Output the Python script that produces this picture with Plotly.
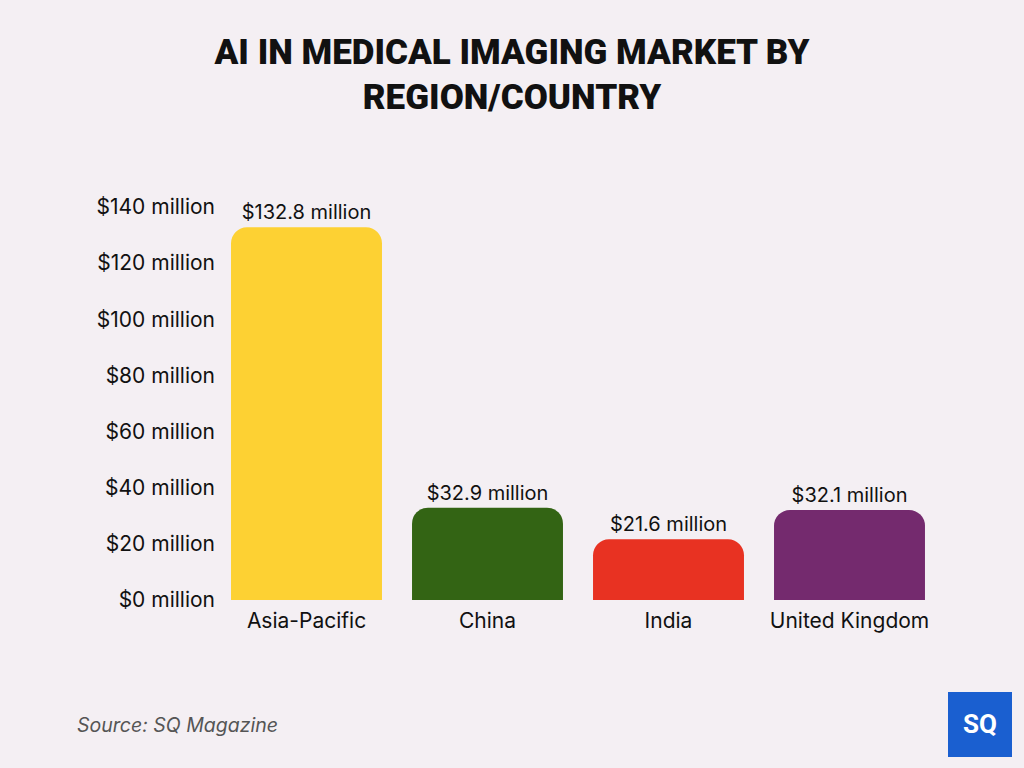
import plotly.graph_objects as go

categories = ["Asia-Pacific", "China", "India", "United Kingdom"]
values = [132.8, 32.9, 21.6, 32.1]
colors = ["#FDD133", "#336414", "#E83222", "#742A6E"]
tick_vals = [0, 20, 40, 60, 80, 100, 120, 140]
tick_text = [f"${v} million" for v in tick_vals]
labels = [f"${v} million" for v in values]

W, H = 1024, 768
L, T, B = 216, 207, 168
PW, PH = 724, 393


def px(x):
    return (x - L) / PW


def py(y):
    return (H - B - y) / PH


fig = go.Figure()
fig.add_trace(go.Bar(
    x=categories, y=values, marker=dict(color=colors, line=dict(width=0)),
    text=labels, textposition="outside", cliponaxis=False,
    textfont=dict(family="Inter", size=20, color="#111111"),
    hoverinfo="skip",
))

fig.update_layout(
    width=W, height=H,
    margin=dict(l=L, r=W - L - PW, t=T, b=B),
    paper_bgcolor="#f4eff3", plot_bgcolor="rgba(0,0,0,0)",
    bargap=0.166, barcornerradius=16, showlegend=False,
    title=dict(text="AI IN MEDICAL IMAGING MARKET BY<br>REGION/COUNTRY",
               x=0.5, xanchor="center", y=0.917, yanchor="top",
               font=dict(family="Roboto", size=35, color="#111111", weight=900)),
    xaxis=dict(showgrid=False, showline=False, zeroline=False, ticks="",
               tickfont=dict(family="Inter", size=21, color="#111111")),
    yaxis=dict(range=[0, 140], tickvals=tick_vals, ticktext=tick_text,
               showgrid=False, showline=False, zeroline=False, ticks="",
               tickfont=dict(family="Inter", size=21, color="#111111")),
    shapes=[dict(type="rect", xref="paper", yref="paper", layer="above",
                 x0=px(948), x1=px(1012), y0=py(757), y1=py(692),
                 fillcolor="#1a5fd0", line=dict(width=0))],
    annotations=[
        dict(text="<i>Source: SQ Magazine</i>", xref="paper", yref="paper",
             x=px(75), y=py(725), xanchor="left", yanchor="middle",
             showarrow=False, font=dict(family="Inter", size=19.5, color="#555555")),
        dict(text="<b>SQ</b>", xref="paper", yref="paper",
             x=px(980), y=py(724), xanchor="center", yanchor="middle",
             showarrow=False, font=dict(family="Roboto", size=26, color="white")),
    ],
)
fig.update_xaxes(ticklabelstandoff=6)
fig.write_html("out.html")
